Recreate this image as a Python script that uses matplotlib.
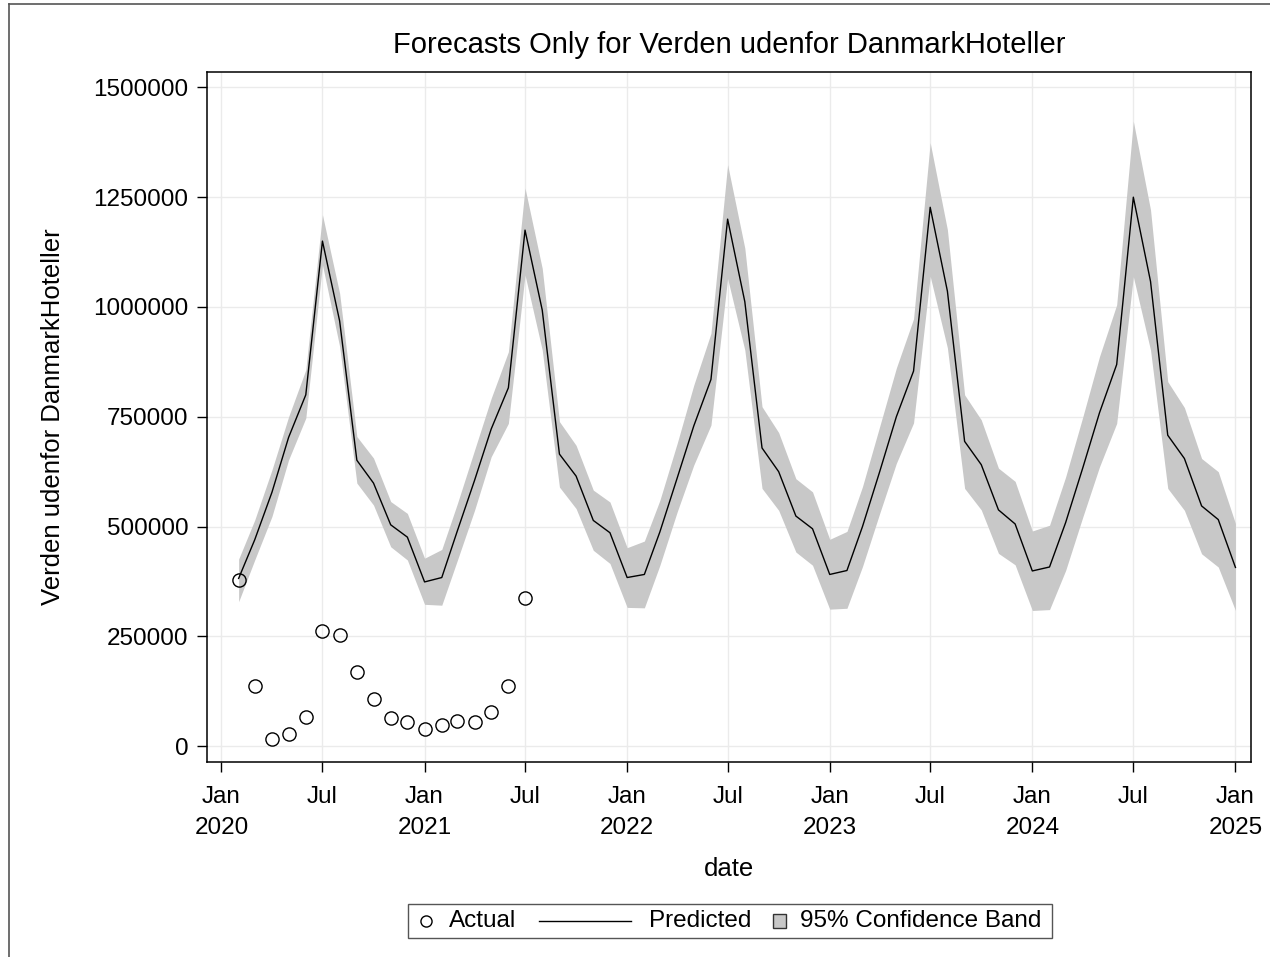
import numpy as np
import pandas as pd
import matplotlib
matplotlib.use("Agg")
import matplotlib.pyplot as plt
from matplotlib.lines import Line2D
from matplotlib.patches import Rectangle
from matplotlib.offsetbox import AnchoredOffsetbox, DrawingArea, HPacker, TextArea

# --- Datos (lecturas aproximadas del gráfico) ---
start_month = "2020-02-01"
n_months = 60

predicted = [
    382000, 470000, 578000, 703000, 800000, 1150000, 968000, 651000, 599000, 504000, 476000,
    374000, 384000, 490000, 605000, 722000, 816000, 1175000, 993000, 665000, 615000, 514000, 486000,
    384000, 391000, 488000, 610000, 729000, 835000, 1200000, 1012000, 679000, 625000, 524000, 495000,
    391000, 400000, 500000, 625000, 750000, 854000, 1227000, 1036000, 694000, 641000, 538000, 506000,
    399000, 408000, 509000, 634000, 759000, 869000, 1250000, 1058000, 708000, 655000, 547000, 516000,
    407000,
]
upper = [
    426000, 515000, 629000, 750000, 857000, 1210000, 1031000, 705000, 656000, 557000, 530000,
    428000, 448000, 552000, 674000, 792000, 898000, 1271000, 1088000, 739000, 685000, 583000, 556000,
    452000, 467000, 560000, 689000, 822000, 940000, 1324000, 1134000, 773000, 714000, 609000, 579000,
    471000, 489000, 591000, 728000, 861000, 973000, 1374000, 1176000, 800000, 743000, 633000, 603000,
    490000, 503000, 613000, 750000, 887000, 1005000, 1423000, 1221000, 830000, 771000, 655000, 625000,
    507000,
]
lower = [
    329000, 424000, 523000, 652000, 747000, 1096000, 910000, 599000, 549000, 454000, 424000,
    323000, 321000, 423000, 537000, 659000, 735000, 1073000, 902000, 590000, 541000, 446000, 416000,
    316000, 315000, 412000, 533000, 640000, 731000, 1065000, 902000, 587000, 537000, 442000, 412000,
    312000, 314000, 409000, 530000, 644000, 736000, 1070000, 907000, 587000, 538000, 439000, 413000,
    309000, 311000, 400000, 522000, 636000, 735000, 1069000, 902000, 587000, 537000, 438000, 408000,
    309000,
]
actual = [
    377700, 137000, 17400, 27000, 67000, 261700, 253800, 170000, 107000, 64500, 54000,
    39000, 49000, 56700, 54000, 76800, 137800, 338000,
]

y_ticks = [0, 250000, 500000, 750000, 1000000, 1250000, 1500000]
x_tick_dates = pd.date_range("2020-01-01", "2025-01-01", freq="6MS")
x_tick_labels = ["Jan\n2020", "Jul", "Jan\n2021", "Jul", "Jan\n2022", "Jul",
                 "Jan\n2023", "Jul", "Jan\n2024", "Jul", "Jan\n2025"]

title = "Forecasts Only for Verden udenfor DanmarkHoteller"
y_label = "Verden udenfor DanmarkHoteller"

dates = pd.date_range(start_month, periods=n_months, freq="MS")
actual_dates = dates[:len(actual)]

# --- Estilo ---
plt.rcParams['font.family'] = ['Liberation Sans', 'DejaVu Sans']
BAND = '#c8c8c8'
GRID = '#ebebeb'
TICK_FS = 17.5

fig = plt.figure(figsize=(12.7, 9.57), dpi=100)
ax = fig.add_axes([207 / 1270, 1 - 762 / 957, (1251 - 207) / 1270, (762 - 72) / 957])

ax.fill_between(dates, lower, upper, color=BAND, linewidth=0, zorder=2)
ax.plot(dates, predicted, color='black', linewidth=1.0, zorder=3)
ax.plot(actual_dates, actual, linestyle='none', marker='o', markersize=9.5,
        markerfacecolor='none', markeredgecolor='black', markeredgewidth=1.0, zorder=4)

# Ejes
ax.set_xlim(pd.Timestamp("2020-01-01") - pd.Timedelta(days=26),
            pd.Timestamp("2025-01-01") + pd.Timedelta(days=28))
ax.set_ylim(-36000, 1535000)
ax.set_xticks(x_tick_dates)
ax.set_xticklabels(x_tick_labels)
ax.set_yticks(y_ticks)
ax.set_yticklabels([str(v) for v in y_ticks])
for lbl in ax.get_xticklabels():
    lbl.set_linespacing(1.55)

ax.tick_params(axis='both', direction='out', length=7.5, width=1, colors='black', labelsize=TICK_FS)
ax.tick_params(axis='x', pad=9.5)
ax.tick_params(axis='y', pad=6)
ax.grid(True, color=GRID, linewidth=1.0, zorder=0)
ax.set_axisbelow(True)
for sp in ax.spines.values():
    sp.set_linewidth(1.1)
    sp.set_color('black')

ax.set_xlabel("date", fontsize=18.5, labelpad=13)
ax.set_ylabel(y_label, fontsize=18.5, labelpad=20)
fig.text(729 / 1270, 1 - 45 / 957, title, fontsize=21, ha='center', va='center')

# --- Leyenda a medida (cada entrada con su ancho propio) ---
H = 24.5
da_circle = DrawingArea(29.5, H, 0, 0)
da_circle.add_artist(Line2D([13], [H / 2], marker='o', markersize=8, markerfacecolor='none',
                            markeredgecolor='black', markeredgewidth=1.0, linestyle='none'))
da_line = DrawingArea(95.8, H, 0, 0)
da_line.add_artist(Line2D([16.6, 82.8], [H / 2, H / 2], color='black', linewidth=1.0))
da_square = DrawingArea(35.3, H, 0, 0)
da_square.add_artist(Rectangle((15.8, H / 2 - 4.7), 9.4, 9.4, facecolor=BAND,
                               edgecolor='#333333', linewidth=1.0))
da_end = DrawingArea(7.5, H, 0, 0)

txt_kw = dict(textprops=dict(fontsize=TICK_FS, color='black'))
box = HPacker(children=[da_circle, TextArea("Actual", **txt_kw),
                        da_line, TextArea("Predicted", **txt_kw),
                        da_square, TextArea("95% Confidence Band", **txt_kw), da_end],
              align='center', pad=0, sep=0)
leg = AnchoredOffsetbox(loc='center', child=box, pad=0, borderpad=0, frameon=True,
                        bbox_to_anchor=(730 / 1270, 1 - 921 / 957),
                        bbox_transform=fig.transFigure)
leg.patch.set_edgecolor('#555555')
leg.patch.set_linewidth(1.0)
leg.patch.set_boxstyle('square', pad=0)
fig.add_artist(leg)

# Borde exterior (solo arriba e izquierda visibles en la imagen original)
fig.add_artist(Line2D([9 / 1270, 1], [1 - 4 / 957, 1 - 4 / 957], transform=fig.transFigure,
                      color='#555555', linewidth=1.2))
fig.add_artist(Line2D([9 / 1270, 9 / 1270], [0, 1 - 4 / 957], transform=fig.transFigure,
                      color='#555555', linewidth=1.2))

fig.savefig("out.png", dpi=100, facecolor='white')
plt.close(fig)
